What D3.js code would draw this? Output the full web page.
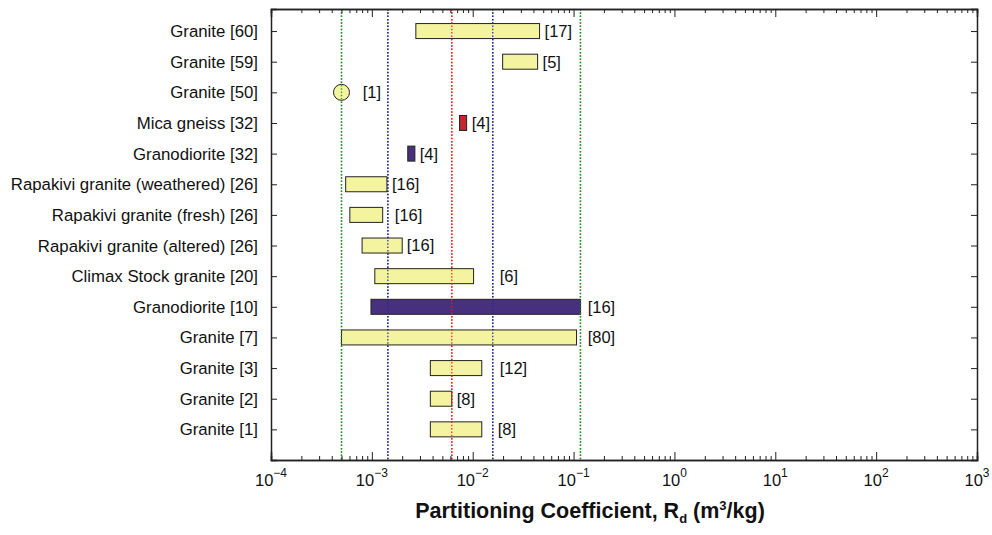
<!DOCTYPE html>
<html>
<head>
<meta charset="utf-8">
<script src="https://cdn.jsdelivr.net/npm/d3@7"></script>
<style>
  body { margin: 0; background: #fff; }
  svg { font-family: "Liberation Sans", Arial, sans-serif; }
</style>
</head>
<body>
<svg></svg>
<script>
// rows, bottom to top
const names = ["Granite [1]", "Granite [2]", "Granite [3]", "Granite [7]", "Granodiorite [10]",
               "Climax Stock granite [20]", "Rapakivi granite (altered) [26]", "Rapakivi granite (fresh) [26]",
               "Rapakivi granite (weathered) [26]", "Granodiorite [32]", "Mica gneiss [32]",
               "Granite [50]", "Granite [59]", "Granite [60]"]
const lows  = [0.0038, 0.0038, 0.0038, 0.0005, 0.00098, 0.00107, 0.0008, 0.000605, 0.00055, 0.00227, 0.0074, 0.0005, 0.0198, 0.00273]
const highs = [0.0123, 0.0062, 0.0123, 0.107, 0.117, 0.0102, 0.002, 0.00128, 0.00141, 0.00267, 0.0087, 0.0005, 0.044, 0.046]
const counts = ["[8]", "[8]", "[12]", "[80]", "[16]", "[6]", "[16]", "[16]", "[16]", "[4]", "[4]", "[1]", "[5]", "[17]"]
const labelAt = [0.0177, 0.00695, 0.0185, 0.138, 0.138, 0.0185, 0.00222, 0.00169, 0.00158, 0.00298, 0.00977, 0.00081, 0.0493, 0.0516]
const kinds = ["bar", "bar", "bar", "bar", "purple", "bar", "bar", "bar", "bar", "purple", "red", "circle", "bar", "bar"]

// reference lines
const refLines = [0.0005, 0.117, 0.00144, 0.0158, 0.0062]
const refColors = ["#2a8a2a", "#2a8a2a", "#2a2a80", "#2a2a80", "#ee2020"]

const xTicks = [-4, -3, -2, -1, 0, 1, 2, 3]

const w = 992
const h = 535
const m = {left: 271, right: 15, top: 9, bottom: 75}

const fills = {bar: "#f4f4a0", circle: "#f4f4a0", purple: "#47317f", red: "#c1272d"}

let svg = d3.select('svg').attr('width', w).attr('height', h)

let x = d3.scaleLog().domain([1e-4, 1e3]).range([m.left, w - m.right])
let y = d3.scaleLinear().domain([0, 14.72]).range([h - m.bottom, m.top])

let plot = svg.append('g')

let drawRefs = (op) => {
    plot.append('g')
        .selectAll('line')
        .data(refLines)
        .enter()
        .append('line')
        .attr('x1', d => x(d)).attr('x2', d => x(d))
        .attr('y1', m.top).attr('y2', h - m.bottom)
        .attr('stroke', (d, i) => refColors[i])
        .attr('stroke-width', 1.4)
        .attr('stroke-dasharray', '1.5,1.8')
        .attr('opacity', op)
}

drawRefs(1)

let rows = d3.range(names.length)

// bars
plot.selectAll('rect.bar')
    .data(rows.filter(i => kinds[i] != 'circle'))
    .enter()
    .append('rect')
    .attr('class', 'bar')
    .attr('x', i => x(lows[i]))
    .attr('width', i => x(highs[i]) - x(lows[i]))
    .attr('y', i => y(i + 1) - 7.5)
    .attr('height', 15)
    .attr('fill', i => fills[kinds[i]])
    .attr('stroke', '#222')
    .attr('stroke-width', 1)

plot.selectAll('circle.pt')
    .data(rows.filter(i => kinds[i] == 'circle'))
    .enter()
    .append('circle')
    .attr('class', 'pt')
    .attr('cx', i => x(lows[i]))
    .attr('cy', i => y(i + 1))
    .attr('r', 8)
    .attr('fill', fills.circle)
    .attr('stroke', '#222')

// dotted lines show through the bars
drawRefs(0.85)

// count labels
plot.selectAll('text.count')
    .data(rows)
    .enter()
    .append('text')
    .attr('class', 'count')
    .attr('x', i => x(labelAt[i]))
    .attr('y', i => y(i + 1))
    .attr('dy', '0.36em')
    .style('font-size', '16.5px')
    .attr('fill', '#111')
    .text(i => counts[i])

// row names
svg.selectAll('text.name')
    .data(rows)
    .enter()
    .append('text')
    .attr('class', 'name')
    .attr('x', m.left - 13)
    .attr('y', i => y(i + 1))
    .attr('dy', '0.36em')
    .attr('text-anchor', 'end')
    .style('font-size', '16.8px')
    .attr('fill', '#111')
    .text(i => names[i])

// axes box, ticks pointing inward
let majorVals = xTicks.map(p => Math.pow(10, p))
let minorVals = []
xTicks.slice(0, -1).forEach(p => {
    for (let k = 2; k < 10; k++) minorVals.push(k * Math.pow(10, p))
})

let bottomAxis = svg.append('g').attr('transform', 'translate(0,' + (h - m.bottom) + ')')
bottomAxis.call(d3.axisBottom(x).tickValues(minorVals).tickSize(-4).tickFormat(''))
bottomAxis.append('g').call(d3.axisBottom(x).tickValues(majorVals).tickSize(-8).tickFormat(''))

let topAxis = svg.append('g').attr('transform', 'translate(0,' + m.top + ')')
topAxis.call(d3.axisTop(x).tickValues(minorVals).tickSize(-4).tickFormat(''))
topAxis.append('g').call(d3.axisTop(x).tickValues(majorVals).tickSize(-8).tickFormat(''))

let rowTicks = rows.map(i => i + 1)
svg.append('g')
   .attr('transform', 'translate(' + m.left + ',0)')
   .call(d3.axisLeft(y).tickValues(rowTicks).tickSize(-6).tickFormat(''))
svg.append('g')
   .attr('transform', 'translate(' + (w - m.right) + ',0)')
   .call(d3.axisRight(y).tickValues(rowTicks).tickSize(-6).tickFormat(''))

svg.selectAll('.domain').attr('stroke', '#222').attr('stroke-width', 1.5)
svg.selectAll('.tick line').attr('stroke', '#222')

// x tick labels 10^n
let tl = svg.selectAll('text.xt')
    .data(xTicks)
    .enter()
    .append('text')
    .attr('class', 'xt')
    .attr('x', p => x(Math.pow(10, p)))
    .attr('y', h - m.bottom + 26)
    .attr('text-anchor', 'middle')
    .style('font-size', '16.5px')
    .attr('fill', '#111')
tl.append('tspan').text('10')
tl.append('tspan').attr('dy', -9).style('font-size', '12px').text(p => p < 0 ? '\u2212' + (-p) : p)

// axis title
let title = svg.append('text')
    .attr('x', 590)
    .attr('y', 518)
    .attr('text-anchor', 'middle')
    .style('font-size', '21.5px')
    .style('font-weight', 'bold')
    .attr('fill', '#111')
title.append('tspan').text('Partitioning Coefficient, R')
title.append('tspan').attr('dy', 5).style('font-size', '13px').text('d')
title.append('tspan').attr('dy', -5).text(' (m')
title.append('tspan').attr('dy', -8).style('font-size', '13px').text('3')
title.append('tspan').attr('dy', 8).text('/kg)')
</script>
</body>
</html>
